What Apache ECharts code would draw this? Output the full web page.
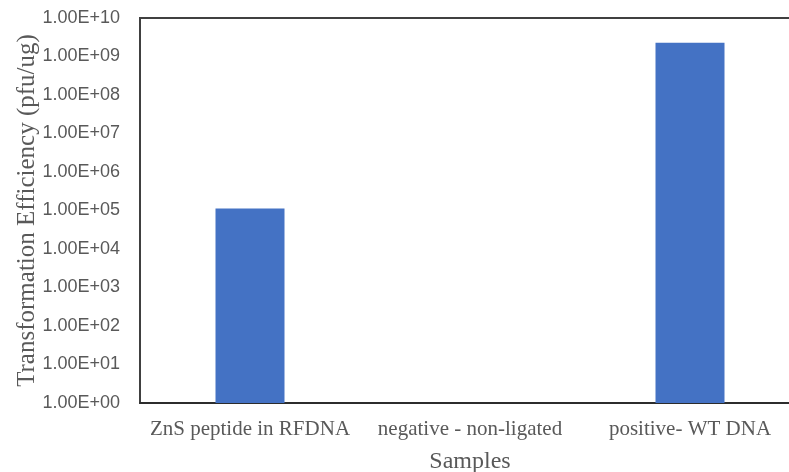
<!DOCTYPE html>
<html>
<head>
<meta charset="utf-8">
<script src="https://cdn.jsdelivr.net/npm/echarts@6/dist/echarts.min.js"></script>
<style>html,body{margin:0;padding:0;background:#fff}#c{width:789px;height:472px}</style>
</head>
<body>
<div id="c"></div>
<script>
var categories = ['ZnS peptide in RFDNA', 'negative - non-ligated', 'positive- WT DNA'];
var efficiency = [1.13e5, null, 2.26e9];
var yTicks = [1, 10, 100, 1e3, 1e4, 1e5, 1e6, 1e7, 1e8, 1e9, 1e10];

function fmt(v) {
  var e = Math.round(Math.log10(v));
  var s = e < 10 ? '0' + e : '' + e;
  return '1.00E+' + s;
}

var chart = echarts.init(document.getElementById('c'));
chart.setOption({
  animation: false,
  grid: {
    left: 140, top: 18, width: 660, height: 385,
    containLabel: false,
    outerBoundsMode: 'none',
    show: true, borderColor: '#404040', borderWidth: 2, backgroundColor: 'transparent'
  },
  xAxis: {
    type: 'category',
    data: categories,
    name: 'Samples',
    nameLocation: 'middle',
    nameGap: 47,
    nameMoveOverlap: false,
    nameTextStyle: { fontFamily: 'Liberation Serif', fontSize: 24, color: '#595959' },
    axisLine: { lineStyle: { color: '#262626', width: 1.5 } },
    axisTick: { show: false },
    axisLabel: { fontFamily: 'Liberation Serif', fontSize: 21, color: '#595959', margin: 16, interval: 0 }
  },
  yAxis: {
    type: 'log',
    logBase: 10,
    min: yTicks[0],
    max: yTicks[yTicks.length - 1],
    interval: 1,
    name: 'Transformation Efficiency (pfu/ug)',
    nameLocation: 'middle',
    nameGap: 100,
    nameMoveOverlap: false,
    nameTextStyle: { fontFamily: 'Liberation Serif', fontSize: 25, color: '#595959' },
    axisLine: { show: true, lineStyle: { color: '#404040', width: 2 } },
    axisTick: { show: false },
    splitLine: { show: false },
    axisLabel: { fontFamily: 'Liberation Sans', fontSize: 18, color: '#595959', margin: 20, formatter: fmt }
  },
  series: [{
    type: 'bar',
    data: efficiency,
    barWidth: 69,
    itemStyle: { color: '#4472C4' }
  }]
});
</script>
</body>
</html>
